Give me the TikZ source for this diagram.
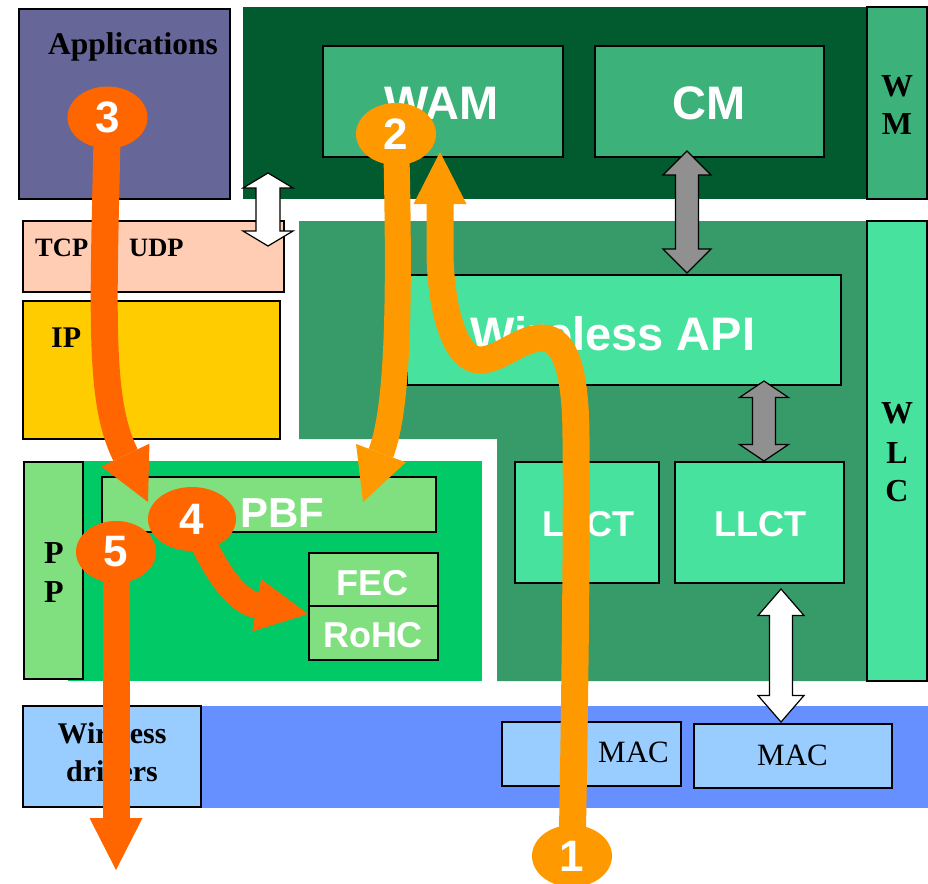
\documentclass[tikz,border=0pt]{standalone}
\usepackage{fontspec}
\setmainfont{Liberation Serif}
\newfontfamily\arialfont{Liberation Sans}
\usetikzlibrary{arrows.meta,shapes.geometric,fit}

\definecolor{appsC}{HTML}{666699}
\definecolor{darkgrn}{HTML}{025A2F}
\definecolor{midgrn}{HTML}{379A69}
\definecolor{wamgrn}{HTML}{3CB27A}
\definecolor{apigrn}{HTML}{47E39E}
\definecolor{brightgrn}{HTML}{00C966}
\definecolor{pbfgrn}{HTML}{80E080}
\definecolor{peach}{HTML}{FFCCB4}
\definecolor{ipyel}{HTML}{FFCC00}
\definecolor{bandblue}{HTML}{6690FF}
\definecolor{lightblue}{HTML}{99CCFF}
\definecolor{orgdark}{HTML}{FF6600}
\definecolor{orglight}{HTML}{FF9900}
\definecolor{arrgray}{HTML}{909090}

\pgfdeclarelayer{front}
\pgfsetlayers{main,front}

% outlined double-headed block arrow: fill, x, y top, y bottom, shaft half width, head half width, head length
\newcommand\blockpair[7]{%
  \filldraw[blockarrow, fill=#1]
    (#2,#3) -- ({#2+#6},{#3+#7}) -- ({#2+#5},{#3+#7}) -- ({#2+#5},{#4-#7})
    -- ({#2+#6},{#4-#7}) -- (#2,#4) -- ({#2-#6},{#4-#7}) -- ({#2-#5},{#4-#7})
    -- ({#2-#5},{#3+#7}) -- ({#2-#6},{#3+#7}) -- cycle;}

\begin{document}
\begin{tikzpicture}[x=1pt,y=-1pt,
  box/.style={draw=black, line width=1.3pt, inner sep=0pt, outer sep=0pt},
  serifb/.style={font=\fontsize{#1}{#1}\selectfont\bfseries, inner sep=0pt, anchor=base},
  serifr/.style={font=\fontsize{#1}{#1}\selectfont, inner sep=0pt, anchor=base west},
  sanswhite/.style={text=white, font=\arialfont\bfseries\fontsize{#1}{#1}\selectfont, inner sep=0pt, anchor=base},
  blockarrow/.style={draw=black, line width=1.2pt, line join=miter},
  flow/.style={draw=#1, line width=27pt,
    -{Triangle[width=53pt,length=52pt,line width=0pt]}},
  bubble/.style={ellipse, fill=#1, minimum width=80pt, minimum height=62pt, inner sep=0pt,
    text=white, font=\arialfont\bfseries\fontsize{44}{44}\selectfont}]

\useasboundingbox (0,0) rectangle (928,883);
\clip (0,0) rectangle (928,883);

% layer backgrounds
\fill[darkgrn] (243,7) rectangle (867,199);
\fill[midgrn] (299,221) -- (867,221) -- (867,681) -- (497,681) -- (497,439) -- (299,439) -- cycle;
\fill[brightgrn] (68,461) rectangle (482,681);
\fill[bandblue] (23,706) rectangle (928,808);

% boxes
\node[box, fill=appsC, fit={(19,9) (230,199)}] (apps) {};
\node[box, fill=wamgrn, fit={(867,7) (927,199)}] (wm) {};
\node[box, fill=wamgrn, fit={(323,46) (563,157)}] (wam) {};
\node[box, fill=wamgrn, fit={(595,46) (824,157)}] (cm) {};
\node[box, fill=peach, fit={(23,221) (284,292)}] (tcp) {};
\node[box, fill=ipyel, fit={(23,301) (280,439)}] (ip) {};
\node[box, fill=apigrn, fit={(867,221) (927,681)}] (wlc) {};
\node[box, fill=apigrn, fit={(407,275) (841,385)}] (api) {};
\node[box, fill=apigrn, fit={(515,462) (659,583)}] (llcta) {};
\node[box, fill=apigrn, fit={(675,462) (844,583)}] (llctb) {};
\node[box, fill=pbfgrn, fit={(24,462) (83,679)}] (pp) {};
\node[box, fill=pbfgrn, fit={(102,477) (436,532)}] (pbf) {};
\node[box, fill=pbfgrn, fit={(309,553) (438,606)}] (fec) {};
\node[box, fill=pbfgrn, fit={(309,606) (438,660)}] (rohc) {};
\node[box, fill=lightblue, fit={(23,706) (201,807)}] (drv) {};
\node[box, fill=lightblue, fit={(502,722) (681,786)}] (maca) {};
\node[box, fill=lightblue, fit={(694,724) (892,788)}] (macb) {};

% labels
\node[serifb=31.5, anchor=base west] (appstxt) at (48,55) {Applications};
\node[sanswhite=47] (wamtxt) at (441.5,119) {WAM};
\node[sanswhite=47] (cmtxt) at (709,119) {CM};
\node[serifb=32] (wmw) at (897,96) {W};
\node[serifb=32] (wmm) at (897,134) {M};
\node[serifb=26.5, anchor=base west] (tcptxt) at (35,256) {TCP};
\node[serifb=26.5, anchor=base west] (udptxt) at (129,256) {UDP};
\node[serifb=30, anchor=base west] (iptxt) at (51,347) {IP};
\node[sanswhite=47] (apitxt) at (613,350) {Wireless API};
\node[serifb=32] (wlcw) at (897,423) {W};
\node[serifb=32] (wlcl) at (897,463) {L};
\node[serifb=32] (wlcc) at (897,501) {C};
\node[sanswhite=36] (llctatxt) at (588,536) {LLCT};
\node[sanswhite=36] (llctbtxt) at (760.5,536) {LLCT};
\node[serifb=32] (ppa) at (54,563) {P};
\node[serifb=32] (ppb) at (54,602) {P};
\node[sanswhite=42, anchor=base west] (pbftxt) at (240,527) {PBF};
\node[sanswhite=36] (fectxt) at (372.5,595) {FEC};
\node[sanswhite=36] (rohctxt) at (373,647) {RoHC};
\node[serifb=30] (drva) at (112,743) {Wireless};
\node[serifb=30] (drvb) at (112,781) {drivers};
\node[serifr=31] (macatxt) at (598,762) {MAC};
\node[serifr=31] (macbtxt) at (757,765) {MAC};

% interface arrows between layers
\blockpair{white}{268}{173}{246}{12}{25}{15}
\blockpair{arrgray}{687}{151}{273}{11.5}{24}{24}
\blockpair{arrgray}{764}{381}{461}{11.5}{24.5}{16.5}
\blockpair{white}{781}{589}{722}{11.5}{23}{26.5}

% numbered steps, kept above the flow arrows
\begin{pgfonlayer}{front}
\node[bubble=orglight] (c1) at (572,856) {1};
\node[bubble=orglight] (c2) at (396,134) {2};
\node[bubble=orgdark] (c3) at (107.5,117.5) {3};
\node[bubble=orgdark, minimum width=88pt, minimum height=64pt] (c4) at (192,519) {4};
\node[bubble=orgdark] (c5) at (116,552) {5};
\end{pgfonlayer}

\coordinate (t1) at (440,152);
\coordinate (t2) at (363,502);
\coordinate (t3) at (148,502);
\coordinate (t4) at (308,614);
\coordinate (t5) at (116,870);

% packet flow
\draw[flow=orglight] (c1.center) .. controls (575,700) and (577,520) .. (576,440)
  .. controls (576,380) and (568,338) .. (542,338)
  .. controls (520,338) and (500,360) .. (480,360)
  .. controls (458,360) and (442,320) .. (440,257) -- (t1);
\draw[flow=orglight, line width=26pt] (c2.center) .. controls (400,300) and (398.5,406) .. (381,453) -- (t2);
\draw[flow=orgdark] (c3.center) .. controls (103,320) and (99,400) .. (125,454) -- (t3);
\draw[flow=orgdark, line width=26pt] (c4.center) .. controls (212,565) and (232,598) .. (255,605) -- (t4);
\draw[flow=orgdark] (c5.center) -- (t5);
\end{tikzpicture}
\end{document}
